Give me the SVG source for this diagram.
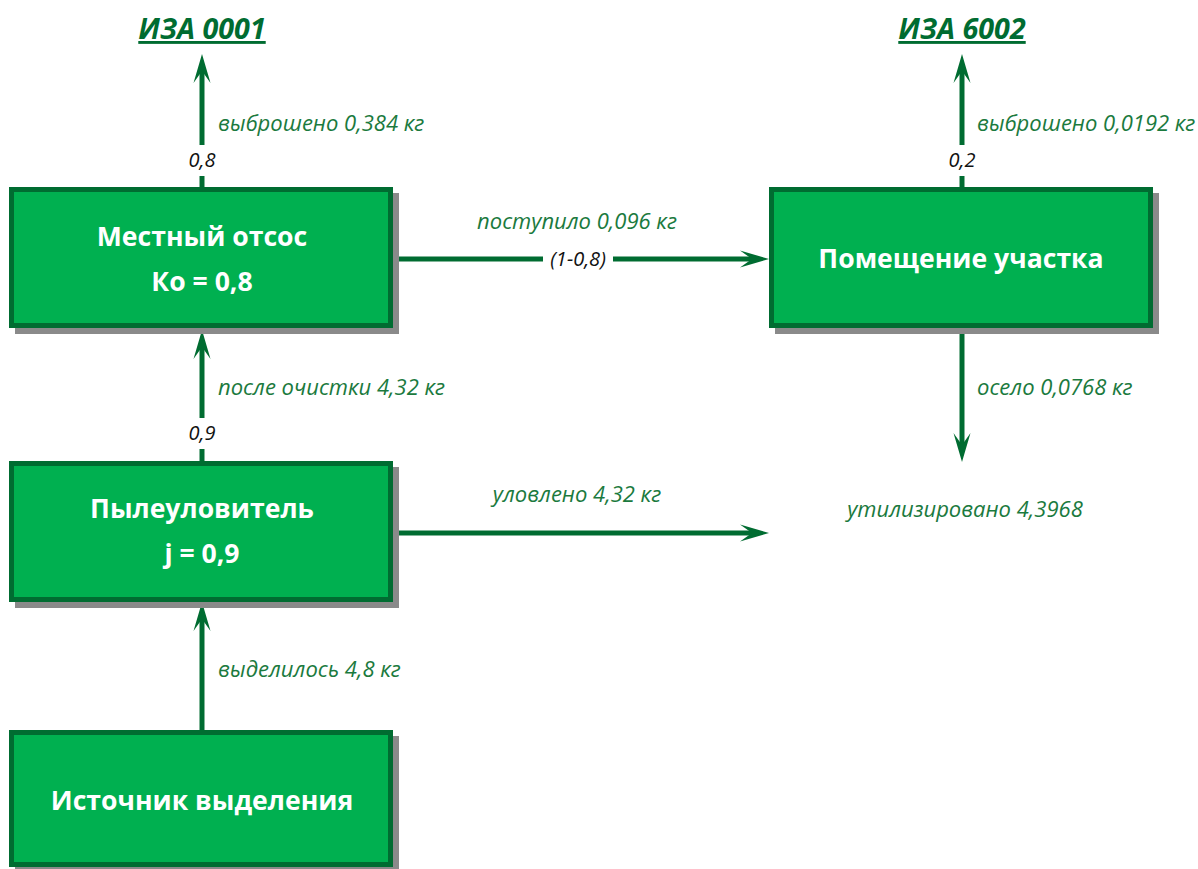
<svg xmlns="http://www.w3.org/2000/svg" width="1198" height="869" viewBox="0 0 1198 869">
<style>
.box{fill:#00B050;stroke:#006C31;stroke-width:5}
.sh{fill:#8A8A8A}
.bt{font-family:"Open Sans","Noto Sans",sans-serif;font-weight:bold;font-size:26.6px;fill:#FFFFFF;text-anchor:middle}
.lbl{font-family:"Open Sans","Noto Sans",sans-serif;font-style:italic;font-size:22px;fill:#1B7A3E}
.k{font-family:"Open Sans","Noto Sans",sans-serif;font-style:italic;font-size:20px;fill:#111111;text-anchor:middle}
.ttl{font-family:"Open Sans","Noto Sans",sans-serif;font-style:italic;font-weight:bold;font-size:28.7px;fill:#006C31;text-anchor:middle;text-decoration:underline}
.ln{stroke:#006C31;stroke-width:5;fill:none}
</style>
<defs>
<marker id="ah" viewBox="0 -9 30 18" refX="12" refY="0" markerWidth="30" markerHeight="18" markerUnits="userSpaceOnUse" orient="auto">
<path d="M0,-8.5 L29,0 L0,8.5 L12,0 Z" fill="#006C31"/>
</marker>
</defs>
<rect width="1198" height="869" fill="#FFFFFF"/>
<g id="connectors">
<line class="ln" x1="202" y1="187" x2="202" y2="176"/>
<line class="ln" x1="202" y1="145" x2="202" y2="71" marker-end="url(#ah)"/>
<line class="ln" x1="962" y1="187" x2="962" y2="176"/>
<line class="ln" x1="962" y1="145" x2="962" y2="71" marker-end="url(#ah)"/>
<line class="ln" x1="393" y1="259" x2="543" y2="259"/>
<line class="ln" x1="613" y1="259" x2="752" y2="259" marker-end="url(#ah)"/>
<line class="ln" x1="202" y1="461" x2="202" y2="449"/>
<line class="ln" x1="202" y1="418" x2="202" y2="347" marker-end="url(#ah)"/>
<line class="ln" x1="202" y1="730" x2="202" y2="619" marker-end="url(#ah)"/>
<line class="ln" x1="393" y1="533" x2="752" y2="533" marker-end="url(#ah)"/>
<line class="ln" x1="962" y1="328" x2="962" y2="445" marker-end="url(#ah)"/>
<text class="k" x="202" y="167">0,8</text>
<text class="k" x="962" y="167">0,2</text>
<text class="k" x="202" y="440">0,9</text>
<text class="k" x="578" y="266">(1-0,8)</text>
<text class="lbl" x="218" y="131">выброшено 0,384 кг</text>
<text class="lbl" x="977" y="131">выброшено 0,0192 кг</text>
<text class="lbl" x="577" y="229" text-anchor="middle">поступило 0,096 кг</text>
<text class="lbl" x="218" y="395">после очистки 4,32 кг</text>
<text class="lbl" x="977" y="395">осело 0,0768 кг</text>
<text class="lbl" x="577" y="502" text-anchor="middle">уловлено 4,32 кг</text>
<text class="lbl" x="965" y="517" text-anchor="middle">утилизировано 4,3968</text>
<text class="lbl" x="218" y="677">выделилось 4,8 кг</text>
</g>
<g id="iza0001"><text class="ttl" x="202" y="39">ИЗА 0001</text></g>
<g id="iza6002"><text class="ttl" x="962" y="39">ИЗА 6002</text></g>
<g id="mestny">
<rect class="sh" x="15" y="193" width="384" height="141"/>
<rect class="box" x="11.5" y="189.5" width="379" height="136"/>
<text class="bt" x="202" y="246">Местный отсос</text>
<text class="bt" x="202" y="291">Ко = 0,8</text>
</g>
<g id="pomeschenie">
<rect class="sh" x="775" y="193" width="384" height="141"/>
<rect class="box" x="771.5" y="189.5" width="379" height="136"/>
<text class="bt" x="961" y="268">Помещение участка</text>
</g>
<g id="pyleulovitel">
<rect class="sh" x="15" y="467" width="384" height="141"/>
<rect class="box" x="11.5" y="463.5" width="379" height="136"/>
<text class="bt" x="202" y="518">Пылеуловитель</text>
<text class="bt" x="202" y="563">j = 0,9</text>
</g>
<g id="istochnik">
<rect class="sh" x="15" y="736" width="384" height="140"/>
<rect class="box" x="11.5" y="732.5" width="379" height="132"/>
<text class="bt" x="202" y="810">Источник выделения</text>
</g>
</svg>
